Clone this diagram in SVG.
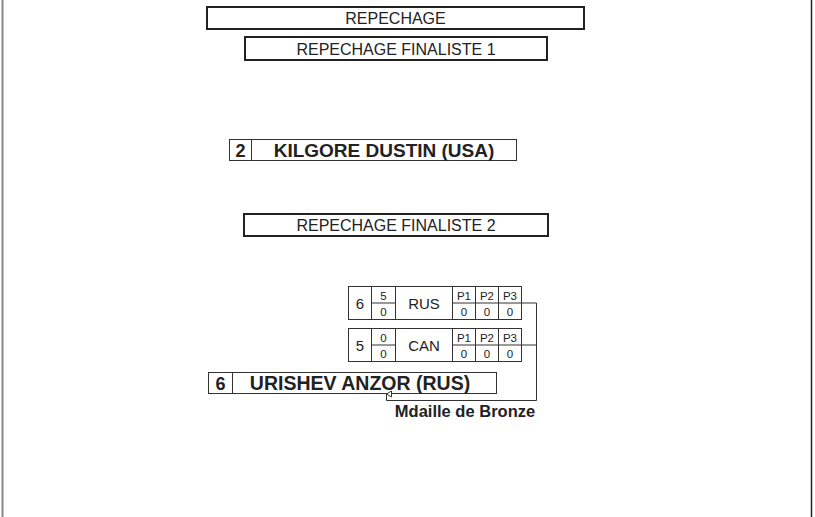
<svg xmlns="http://www.w3.org/2000/svg" width="815" height="517" viewBox="0 0 815 517">
<defs>
<style>
.t{font-family:"Liberation Sans",Arial,sans-serif;fill:#222;text-anchor:middle}
.hdr{fill:#fff;stroke:#222;stroke-width:2}
.cell{fill:#fff;stroke:#333;stroke-width:1}
.ln{fill:none;stroke:#333;stroke-width:1}
.b{font-weight:bold}
</style>
<marker id="arr" markerWidth="8" markerHeight="8" refX="4" refY="1" orient="auto-start-reverse" markerUnits="userSpaceOnUse" viewBox="0 0 8 8">
<path d="M4,1 L7,6 L1,6 Z" fill="#fff" stroke="#333" stroke-width="1"/>
</marker>
</defs>
<rect width="815" height="517" fill="#fff"/>
<line x1="2.5" y1="0" x2="2.5" y2="517" stroke="#888" stroke-width="2"/>
<line x1="811.5" y1="0" x2="811.5" y2="517" stroke="#222" stroke-width="1.5"/>

<g id="repechage">
<rect class="hdr" x="207" y="7" width="377" height="22"/>
<text class="t" x="395.5" y="23.5" font-size="16">REPECHAGE</text>
</g>
<g id="finaliste1">
<rect class="hdr" x="245" y="37" width="302" height="23"/>
<text class="t" x="396" y="54.5" font-size="16">REPECHAGE FINALISTE 1</text>
</g>
<g id="kilgore">
<rect class="cell" x="229.5" y="139.5" width="287" height="21"/>
<line class="ln" x1="251.5" y1="139.5" x2="251.5" y2="160.5"/>
<text class="t b" x="240.5" y="157" font-size="18">2</text>
<text class="t b" x="384" y="157" font-size="19">KILGORE DUSTIN (USA)</text>
</g>
<g id="finaliste2">
<rect class="hdr" x="244" y="214" width="304" height="22"/>
<text class="t" x="396" y="231" font-size="16">REPECHAGE FINALISTE 2</text>
</g>

<g id="match-rus">
<rect class="cell" x="348.5" y="286.5" width="173" height="33"/>
<line class="ln" x1="371.5" y1="286.5" x2="371.5" y2="319.5"/>
<line class="ln" x1="395.5" y1="286.5" x2="395.5" y2="319.5"/>
<line class="ln" x1="452.5" y1="286.5" x2="452.5" y2="319.5"/>
<line class="ln" x1="475.5" y1="286.5" x2="475.5" y2="319.5"/>
<line class="ln" x1="498.5" y1="286.5" x2="498.5" y2="319.5"/>
<line class="ln" x1="371.5" y1="303" x2="395.5" y2="303"/>
<line class="ln" x1="452.5" y1="303" x2="521.5" y2="303"/>
<text class="t" x="360" y="308.5" font-size="15">6</text>
<text class="t" x="383.5" y="299.5" font-size="11.5">5</text>
<text class="t" x="383.5" y="316" font-size="11.5">0</text>
<text class="t" x="424" y="308.5" font-size="15">RUS</text>
<text class="t" x="464" y="299.5" font-size="11.5">P1</text>
<text class="t" x="487" y="299.5" font-size="11.5">P2</text>
<text class="t" x="510" y="299.5" font-size="11.5">P3</text>
<text class="t" x="464" y="316" font-size="11.5">0</text>
<text class="t" x="487" y="316" font-size="11.5">0</text>
<text class="t" x="510" y="316" font-size="11.5">0</text>
</g>

<g id="match-can">
<rect class="cell" x="348.5" y="328.5" width="173" height="33"/>
<line class="ln" x1="371.5" y1="328.5" x2="371.5" y2="361.5"/>
<line class="ln" x1="395.5" y1="328.5" x2="395.5" y2="361.5"/>
<line class="ln" x1="452.5" y1="328.5" x2="452.5" y2="361.5"/>
<line class="ln" x1="475.5" y1="328.5" x2="475.5" y2="361.5"/>
<line class="ln" x1="498.5" y1="328.5" x2="498.5" y2="361.5"/>
<line class="ln" x1="371.5" y1="345" x2="395.5" y2="345"/>
<line class="ln" x1="452.5" y1="345" x2="521.5" y2="345"/>
<text class="t" x="360" y="350.5" font-size="15">5</text>
<text class="t" x="383.5" y="341.5" font-size="11.5">0</text>
<text class="t" x="383.5" y="358" font-size="11.5">0</text>
<text class="t" x="424" y="350.5" font-size="15">CAN</text>
<text class="t" x="464" y="341.5" font-size="11.5">P1</text>
<text class="t" x="487" y="341.5" font-size="11.5">P2</text>
<text class="t" x="510" y="341.5" font-size="11.5">P3</text>
<text class="t" x="464" y="358" font-size="11.5">0</text>
<text class="t" x="487" y="358" font-size="11.5">0</text>
<text class="t" x="510" y="358" font-size="11.5">0</text>
</g>

<g id="urishev">
<rect class="cell" x="208.5" y="372.5" width="288" height="21"/>
<line class="ln" x1="232.5" y1="372.5" x2="232.5" y2="393.5"/>
<text class="t b" x="220.5" y="390" font-size="18">6</text>
<text class="t b" x="360" y="390" font-size="19.5">URISHEV ANZOR (RUS)</text>
</g>

<g id="connectors">
<polyline class="ln" points="521.5,303 536.5,303 536.5,400.5 386.5,400.5 386.5,394" marker-end="url(#arr)"/>
<line class="ln" x1="521.5" y1="345" x2="536.5" y2="345"/>
</g>

<g id="medal">
<text class="t b" x="465" y="417" font-size="16.5">Mdaille de Bronze</text>
</g>
</svg>
